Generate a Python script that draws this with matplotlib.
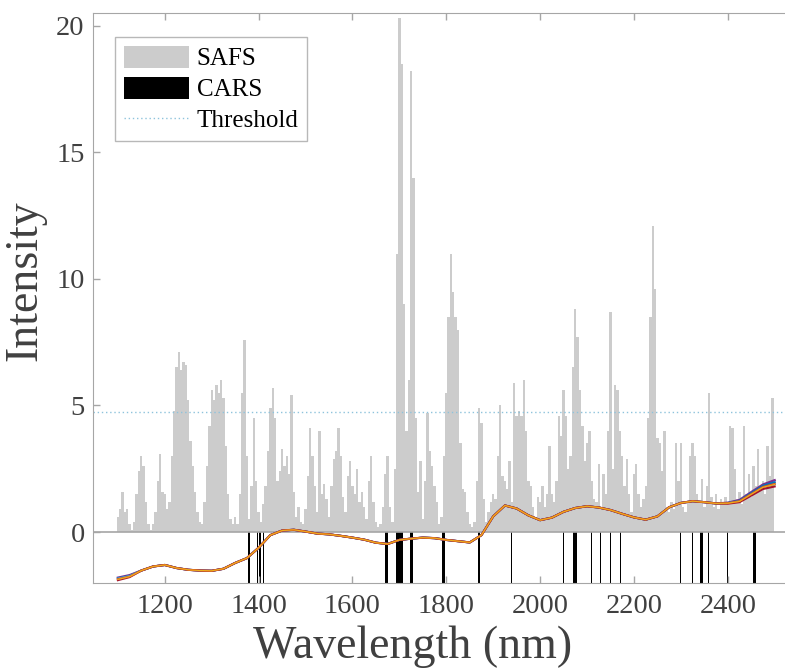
import numpy as np
import matplotlib.pyplot as plt

plt.rcParams['font.family'] = 'serif'
plt.rcParams['font.serif'] = ['Liberation Serif', 'Times New Roman', 'DejaVu Serif']

# SAFS intensities, 5 nm steps from 1100 nm (one row = 100 nm)
safs = [
    0.6, 0.9, 1.6, 0.8, 0.9, 0.3, 0.1, 0.4, 1.5, 2.4, 3.0, 2.6, 1.2, 0.3, 0.1, 0.3, 0.8, 2.0, 3.1, 1.6,
    1.5, 0.9, 1.2, 3.0, 4.8, 6.5, 7.1, 6.4, 6.7, 6.6, 5.2, 3.6, 2.6, 1.6, 0.8, 0.4, 0.3, 1.2, 2.6, 4.2,
    5.6, 5.2, 5.8, 5.5, 6.0, 5.3, 3.4, 1.5, 0.5, 0.3, 0.6, 0.3, 1.5, 5.5, 7.6, 3.0, 0.5, 1.8, 4.5, 2.0,
    0.8, 0.4, 1.1, 1.8, 3.2, 4.9, 5.7, 4.5, 2.0, 2.4, 3.3, 2.6, 3.0, 2.3, 5.4, 1.6, 0.6, 1.0, 0.4, 0.3,
    0.9, 2.2, 4.1, 3.0, 1.8, 0.8, 4.0, 1.5, 1.9, 1.3, 0.6, 1.8, 2.9, 3.2, 4.1, 3.0, 1.4, 0.8, 2.2, 2.8,
    1.8, 1.5, 2.5, 1.2, 1.6, 1.0, 0.5, 2.0, 3.0, 1.2, 0.4, 0.2, 0.3, 1.0, 2.3, 3.0, 1.0, 0.4, 2.5, 11.0,
    20.3, 18.5, 9.0, 4.0, 6.0, 18.2, 14.0, 4.5, 1.6, 2.8, 0.5, 2.0, 4.7, 3.2, 2.6, 1.8, 1.2, 0.3, 0.6, 3.0,
    5.5, 8.5, 11.0, 9.5, 8.5, 8.0, 3.5, 1.7, 1.6, 0.8, 0.3, 0.2, 0.4, 2.0, 4.9, 4.3, 1.3, 0.4, 0.8, 1.2,
    1.5, 1.3, 3.0, 5.0, 2.2, 2.0, 1.7, 2.8, 1.2, 5.9, 4.6, 4.8, 4.6, 6.0, 4.0, 2.0, 1.8, 1.0, 0.6, 1.4,
    1.2, 1.8, 1.0, 1.5, 3.4, 1.5, 1.2, 2.0, 4.6, 3.8, 5.6, 4.6, 2.5, 3.0, 6.5, 8.8, 7.7, 5.6, 4.2, 2.8,
    3.5, 4.0, 2.0, 1.3, 1.2, 2.7, 1.0, 2.3, 1.5, 4.0, 8.7, 2.5, 5.8, 5.6, 4.0, 3.0, 1.8, 2.9, 1.5, 0.8,
    2.3, 2.7, 1.5, 1.0, 1.3, 1.8, 4.5, 8.5, 12.1, 9.6, 3.7, 3.5, 2.4, 4.0, 1.0, 0.8, 1.2, 0.9, 3.5, 2.0,
    3.5, 1.0, 0.8, 1.2, 3.0, 3.5, 3.0, 1.5, 1.2, 2.1, 1.0, 1.8, 5.5, 1.4, 1.0, 1.5, 0.9, 1.3, 1.1, 1.4,
    1.2, 4.2, 4.1, 2.5, 1.3, 1.6, 1.1, 4.2, 1.5, 2.3, 1.4, 2.6, 1.8, 3.3, 1.8, 2.0, 1.5, 3.4, 2.2, 5.3,
]
safs_wl = np.arange(1100, 1100 + 5 * len(safs), 5)

# CARS selected wavelengths (nm)
cars_wl = [1380, 1398, 1403, 1410, 1672, 1675, 1695, 1698, 1701, 1704, 1707, 1724, 1727,
           1793, 1796, 1870, 1939, 2050, 2072, 2075, 2078, 2109, 2129, 2150, 2171,
           2299, 2325, 2342, 2345, 2359, 2399, 2455, 2458]

threshold = 4.73

# scaled spectra, 25 nm steps from 1100 nm
spec_wl = np.arange(1100, 2501, 25)
spec_mid = [-1.85, -1.75, -1.52, -1.36, -1.30, -1.42, -1.49, -1.52, -1.53, -1.45,
            -1.22, -1.03, -0.62, -0.12, 0.06, 0.09, 0.02, -0.06, -0.09, -0.15,
            -0.22, -0.30, -0.42, -0.47, -0.31, -0.26, -0.22, -0.24, -0.31, -0.36,
            -0.41, -0.12, 0.62, 1.05, 0.93, 0.66, 0.47, 0.57, 0.80, 0.95,
            1.02, 0.97, 0.87, 0.72, 0.58, 0.49, 0.62, 0.98, 1.15, 1.22,
            1.18, 1.13, 1.14, 1.22, 1.50, 1.78, 1.90]
spec_heads = {'#7E2F8E': [-1.80, -1.70], '#0072BD': [-1.83, -1.73], '#4DBEEE': [-1.84, -1.74],
              '#A2142F': [-1.90, -1.78], '#D95319': [-1.86, -1.76], '#EDB120': [-1.87, -1.76]}
spec_tails = {'#7E2F8E': [1.16, 1.27, 1.58, 1.88, 2.05], '#0072BD': [1.15, 1.24, 1.54, 1.83, 1.97],
              '#4DBEEE': [1.14, 1.21, 1.49, 1.77, 1.88],
              '#A2142F': [1.12, 1.18, 1.44, 1.70, 1.80], '#D95319': [1.14, 1.22, 1.50, 1.78, 1.90],
              '#EDB120': [1.14, 1.21, 1.49, 1.77, 1.88]}
spec_lw = {'#7E2F8E': 1.6, '#0072BD': 1.5, '#4DBEEE': 1.4, '#A2142F': 1.5, '#D95319': 1.5, '#EDB120': 0.8}

ymin, ymax = -2.0, 20.5
xmin, xmax = 1047, 2539

fig = plt.figure(figsize=(7.85, 6.68), dpi=100)
ax = fig.add_axes([93 / 785, (668 - 582.7) / 668, 700 / 785, (582.7 - 13) / 668])

h_safs = ax.bar(safs_wl, safs, width=5, color='#cccccc', linewidth=0, label='SAFS')
h_cars = ax.bar(cars_wl, [ymin] * len(cars_wl), width=3.2, color='black', linewidth=0, label='CARS')
ax.axhline(0, color='#a6a6a6', lw=1.2, zorder=2)

for c in spec_heads:
    vals = spec_heads[c] + spec_mid[2:-5] + spec_tails[c]
    ax.plot(spec_wl, vals, color=c, lw=spec_lw[c], zorder=3)

h_thr = ax.axhline(threshold, color='#8ec3dc', ls=(0, (1, 2)), lw=1, label='Threshold', zorder=2)

ax.set_xlim(xmin, xmax)
ax.set_ylim(ymin, ymax)
ax.set_xticks([1200, 1400, 1600, 1800, 2000, 2200, 2400])
ax.set_yticks([0, 5, 10, 15, 20])
ax.tick_params(direction='in', length=5, width=1, color='#a6a6a6', labelcolor='#404040',
               labelsize=20.5, top=True)
ax.tick_params(axis='x', pad=8)
ax.tick_params(axis='y', pad=6)
for s in ax.spines.values():
    s.set_color('#a6a6a6')
ax.spines['right'].set_visible(False)

ax.set_xlabel('Wavelength (nm)', fontsize=33, color='#404040')
ax.set_ylabel('Intensity', fontsize=33, color='#404040')
ax.xaxis.set_label_coords(0.456, -0.075)
ax.yaxis.set_label_coords(-0.066, 0.531)

leg = ax.legend([h_safs, h_cars, h_thr], ['SAFS', 'CARS', 'Threshold'],
                loc='upper left', bbox_to_anchor=(0.032, 0.958), fontsize=18, frameon=True,
                fancybox=False, edgecolor='#a6a6a6', handlelength=2.6, handleheight=1.0,
                labelspacing=0.25, borderpad=0.35, handletextpad=0.3, borderaxespad=0)
leg.get_frame().set_linewidth(1)

fig.savefig('out.png', dpi=100)
